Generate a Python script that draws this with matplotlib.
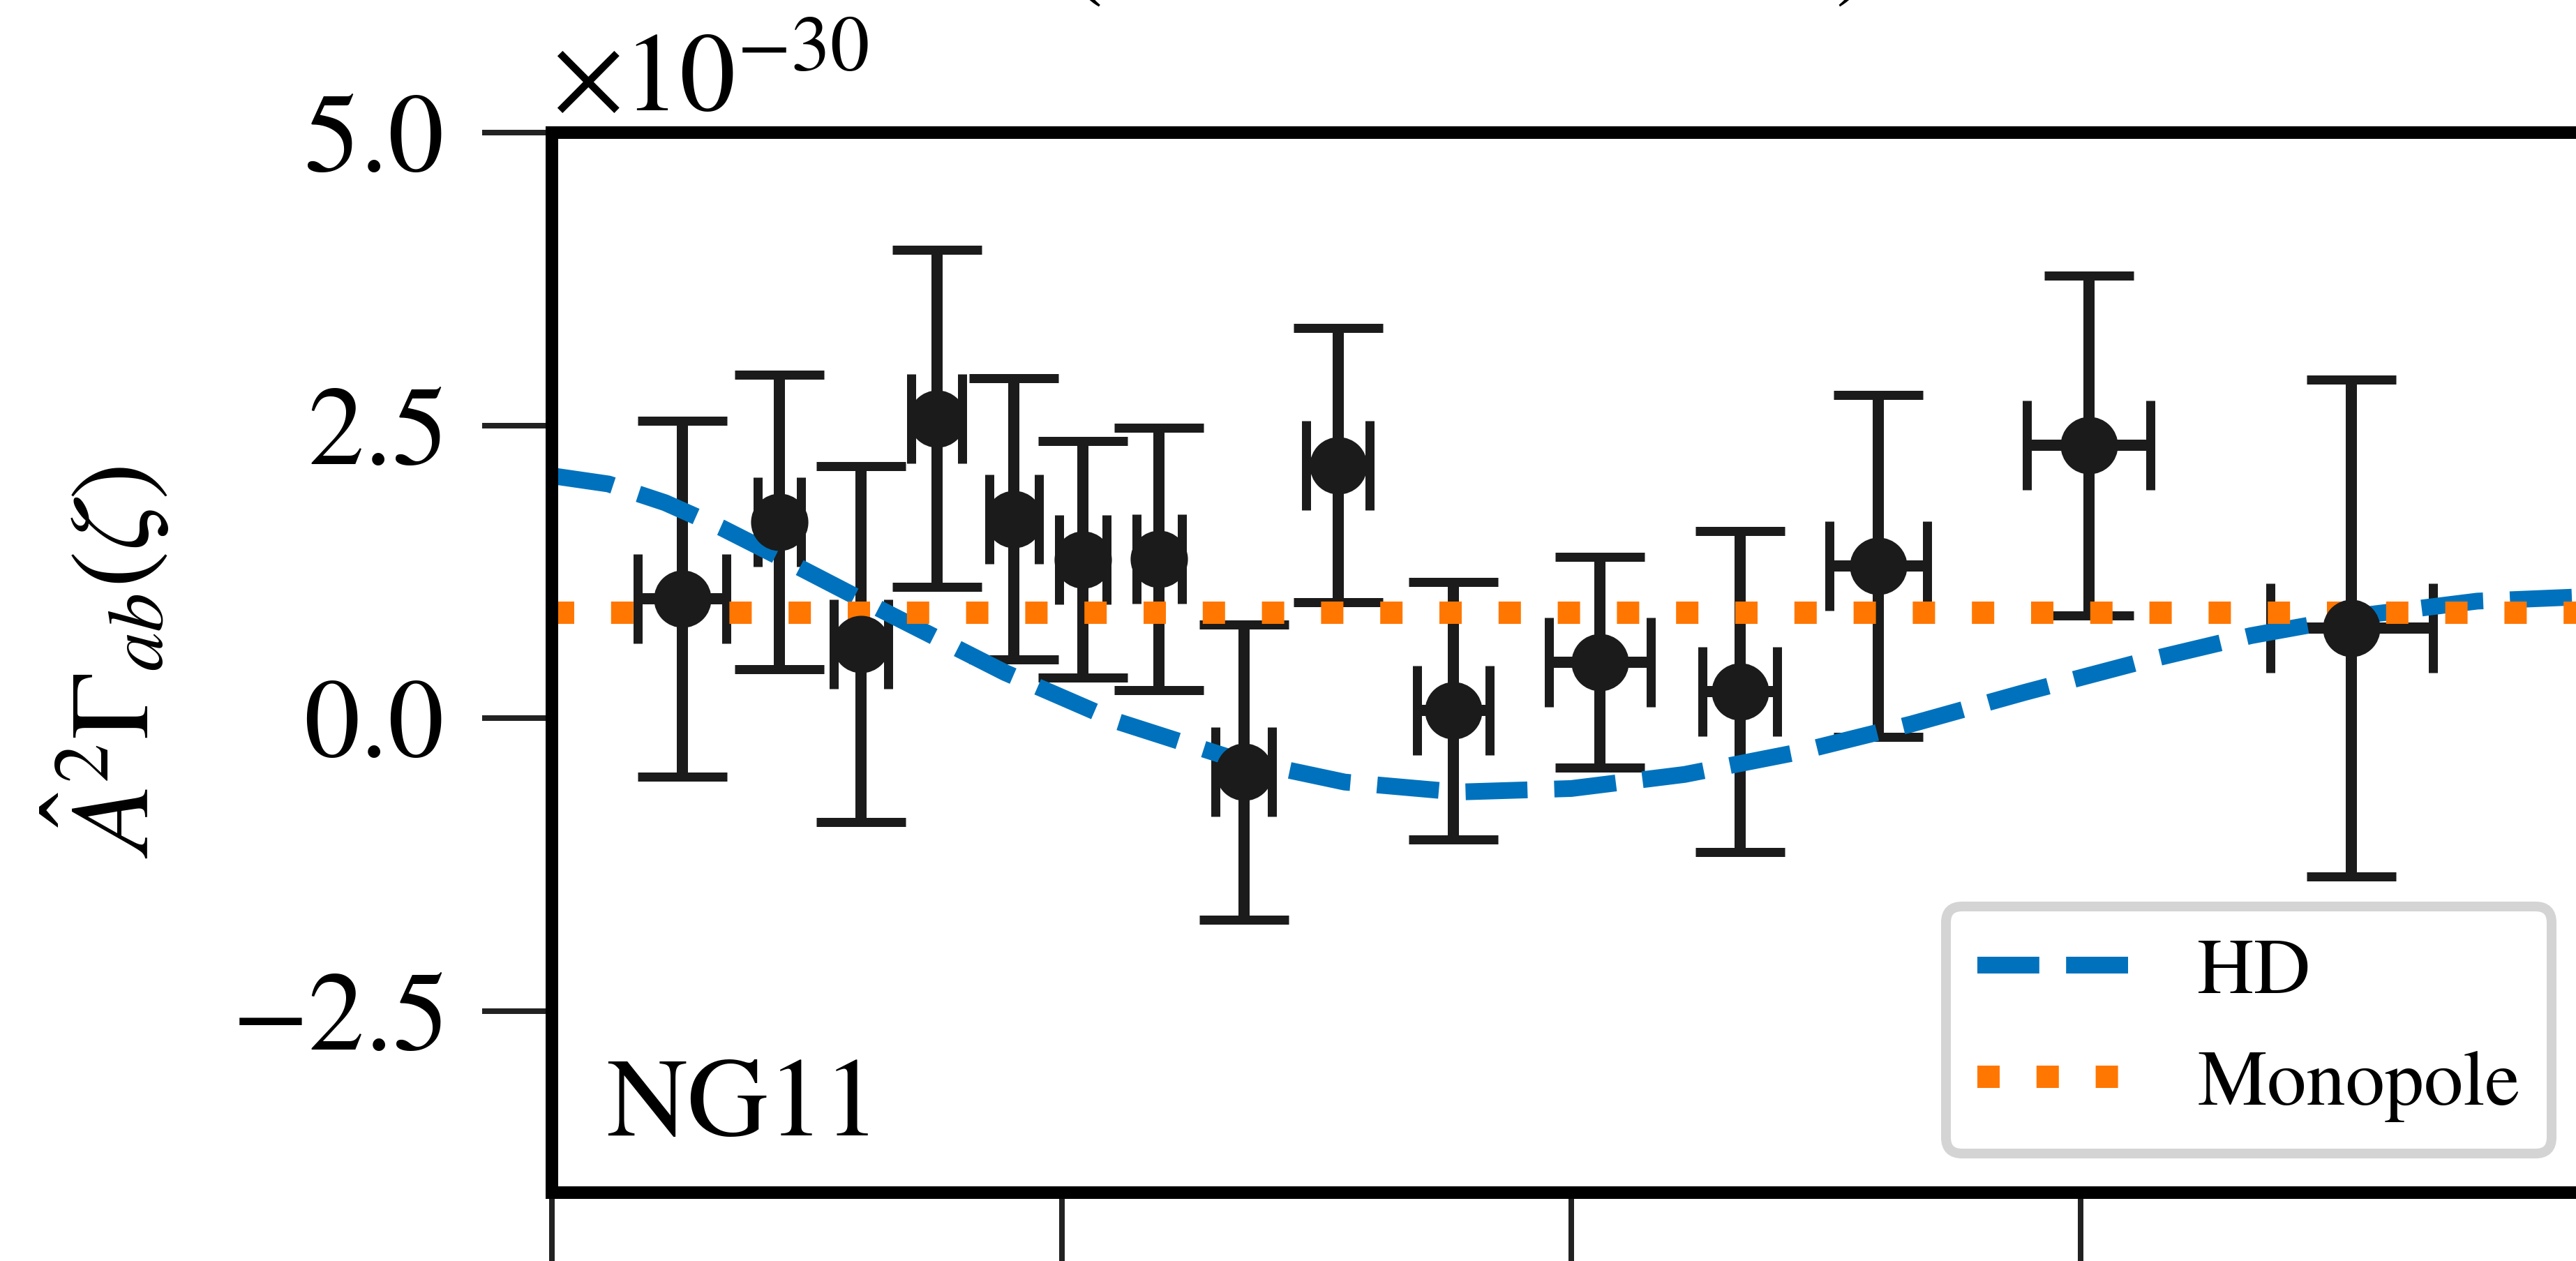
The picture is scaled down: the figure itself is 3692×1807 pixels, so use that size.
import matplotlib
matplotlib.use('Agg')
import matplotlib.pyplot as plt
from matplotlib.ticker import FixedLocator

plt.rcParams['font.family'] = ['STIXGeneral', 'DejaVu Serif']
plt.rcParams['mathtext.fontset'] = 'stix'
plt.rcParams['axes.formatter.use_mathtext'] = True

# ---------------- data (values in units of 1e-30) ----------------
SCALE = 1e-30
angles = [11.5, 20.1, 27.3, 34.0, 40.8, 46.9, 53.6, 61.1, 69.4, 79.6, 92.5, 104.9, 117.1, 135.7, 158.9]
angle_err = [3.9, 1.9, 2.4, 2.25, 2.2, 2.1, 2.0, 2.5, 2.8, 3.2, 4.5, 3.3, 4.3, 5.45, 7.2]
corr = [1.02, 1.675, 0.635, 2.56, 1.70, 1.355, 1.36, -0.46, 2.16, 0.065, 0.48, 0.23, 1.30, 2.33, 0.77]
corr_err = [1.52, 1.255, 1.52, 1.44, 1.2, 1.01, 1.12, 1.26, 1.17, 1.1, 0.9, 1.37, 1.46, 1.45, 2.12]

hd_angles = [0, 5, 10, 15, 20, 25, 30, 40, 50, 60, 70, 80, 90, 100, 110, 120, 130, 140, 150, 160, 170, 180]
hd_vals = [2.07, 2.00, 1.84, 1.625, 1.38, 1.13, 0.88, 0.39, -0.03, -0.34, -0.545, -0.63, -0.60, -0.48,
           -0.29, -0.05, 0.22, 0.475, 0.705, 0.88, 1.00, 1.04]

mono_angles = [0, 180]
mono_vals = [0.9, 0.9]

xticks = [0, 45, 90, 135, 180]
yticks = [-2.5, 0.0, 2.5, 5.0]
series_labels = ['HD', 'Monopole']
panel_label = 'NG11'
ylabel = r'$\hat{A}^2\Gamma_{ab}(\zeta)$'

# ---------------- figure ----------------
W, H = 3692, 1807
DPI = 300
PX = 72.0 / DPI  # points per pixel
fig = plt.figure(figsize=(W / DPI, H / DPI), dpi=DPI)
ax = fig.add_axes([791 / W, 1 - 1709 / H, (3713 - 791) / W, (1709 - 190) / H])

ebc = '#1b1b1b'
ax.errorbar(angles, [v * SCALE for v in corr], yerr=[e * SCALE for e in corr_err], xerr=angle_err,
            fmt='o', color=ebc, ecolor=ebc, ms=78 * PX, elinewidth=16 * PX,
            capsize=64 * PX, capthick=13 * PX)
ax.plot(hd_angles, [v * SCALE for v in hd_vals], ls='--', color='#0072bd', lw=24 * PX, label=series_labels[0])
ax.plot(mono_angles, [v * SCALE for v in mono_vals], ls=':', color='#ff7700', lw=32 * PX, label=series_labels[1])

ax.set_xlim(0, 180)
ax.set_ylim(-4.05 * SCALE, 5.0 * SCALE)
ax.xaxis.set_major_locator(FixedLocator(xticks))
ax.yaxis.set_major_locator(FixedLocator([t * SCALE for t in yticks]))

FS = 38.5
for s in ax.spines.values():
    s.set_linewidth(18 * PX)
ax.tick_params(axis='both', direction='out', length=100 * PX, width=8 * PX, pad=57 * PX,
               labelsize=FS, color='#222222')
ax.tick_params(axis='x', labelbottom=False)
ax.yaxis.offsetText.set_fontsize(FS)
ax.yaxis.OFFSETTEXTPAD = 32 * PX

ax.set_ylabel(ylabel, fontsize=FS, labelpad=20)

ax.text(0.0267, 0.054, panel_label, transform=ax.transAxes, fontsize=FS, ha='left', va='baseline')

leg = ax.legend(loc='lower right', fontsize=27, fancybox=True, framealpha=1.0, edgecolor='0.83')
leg.get_frame().set_linewidth(14 * PX)

# partial text from the panel above (only the bottoms of the parentheses are visible)
fig.text(1554 / W, 1 + 18 / H, '(', fontsize=FS, ha='center', va='baseline')
fig.text(2657 / W, 1 + 18 / H, ')', fontsize=FS, ha='center', va='baseline')

fig.savefig('out.png', dpi=DPI)
